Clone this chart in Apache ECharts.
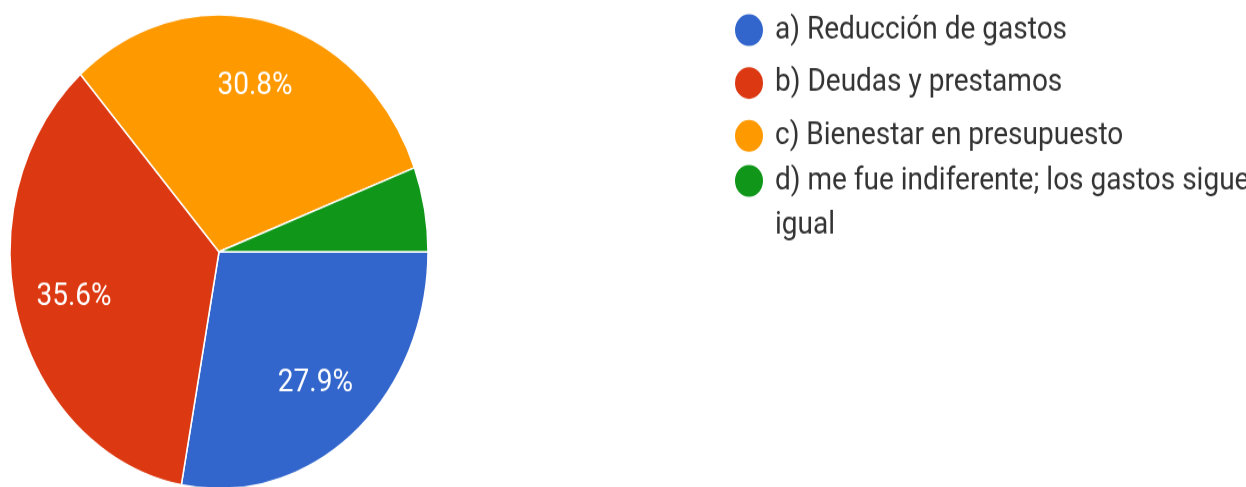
<!DOCTYPE html>
<html>
<head>
<meta charset="utf-8">
<script src="https://cdn.jsdelivr.net/npm/echarts@6/dist/echarts.min.js"></script>
<style>
    html, body { margin: 0; padding: 0; background: #fff; }
    body { width: 1246px; height: 487px; overflow: hidden; }
    /* la imagen original esta estirada en vertical */
    #chart { width: 1246px; height: 430px; transform: scaleY(1.134); transform-origin: 0 0; }
</style>
</head>
<body>
<div id="chart"></div>
<script>
    // respuestas
    const categories = [
        'a) Reducción de gastos',
        'b) Deudas y prestamos',
        'c) Bienestar en presupuesto',
        'd) me fue indiferente; los gastos siguen igual'
    ]
    const counts = [29, 37, 32, 6]
    const colors = ['#3366cc', '#dc3912', '#ff9900', '#109618']

    const pieData = categories.map((name, i) => ({name, value: counts[i]}))
    // la porcion verde no lleva etiqueta
    const labelData = categories.map((name, i) => ({
        name,
        value: counts[i],
        label: {show: i !== 3}
    }))

    const chart = echarts.init(document.getElementById('chart'))
    const textColor = '#333'
    const font = 'Roboto'

    chart.setOption({
        color: colors,
        animation: false,
        legend: [
            {
                orient: 'vertical',
                left: 733,
                top: 10.6,
                padding: 0,
                icon: 'circle',
                itemWidth: 42,
                itemHeight: 30,
                itemGap: 14.6,
                selectedMode: false,
                data: categories.slice(0, 3),
                textStyle: {color: textColor, fontSize: 28, fontFamily: font, lineHeight: 30}
            },
            {
                // el texto largo se parte en dos lineas; la linea vacia de arriba
                // deja la primera linea a la altura del circulo
                orient: 'vertical',
                left: 733,
                top: 101,
                padding: 0,
                icon: 'circle',
                itemWidth: 42,
                itemHeight: 30,
                selectedMode: false,
                data: categories.slice(3),
                formatter: () => ' \nd) me fue indiferente; los gastos siguen\nigual',
                textStyle: {color: textColor, fontSize: 28, fontFamily: font, lineHeight: 39}
            }
        ],
        series: [
            {
                type: 'pie',
                center: [219, 222],
                radius: [0, 209],
                startAngle: 0,
                clockwise: true,
                silent: true,
                itemStyle: {borderColor: '#fff', borderWidth: 1.5},
                label: {show: false},
                labelLine: {show: false},
                data: pieData
            },
            {
                // solo para colocar los porcentajes a ~0.7 del radio
                type: 'pie',
                center: [219, 222],
                radius: [86, 209],
                startAngle: 0,
                clockwise: true,
                silent: true,
                percentPrecision: 1,
                itemStyle: {color: 'rgba(0,0,0,0)', borderWidth: 0},
                label: {
                    show: true,
                    position: 'inside',
                    formatter: '{d}%',
                    color: '#fff',
                    fontSize: 28,
                    fontFamily: font,
                    textBorderWidth: 0
                },
                labelLine: {show: false},
                data: labelData
            }
        ]
    })
</script>
</body>
</html>
